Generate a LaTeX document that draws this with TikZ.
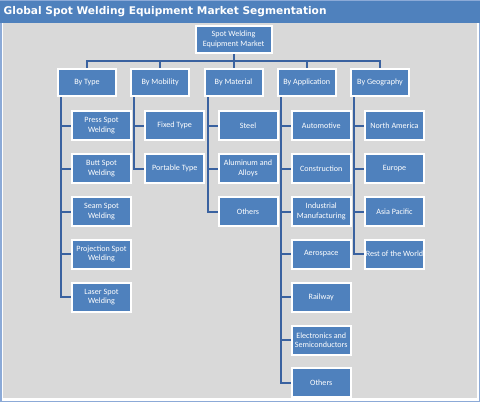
\documentclass[tikz,border=0pt]{standalone}
\usepackage{fontspec}
\usepackage{xcolor}
\usepackage{tikz}
\usetikzlibrary{positioning, calc}
\newfontfamily\boxfont{Carlito}
\newfontfamily\headfont{DejaVu Sans}
\definecolor{myblue}{RGB}{79,129,189}
\definecolor{mylink}{RGB}{58,98,160}
\definecolor{mygray}{RGB}{217,217,217}
\definecolor{myframe}{RGB}{140,170,215}
\tikzset{
  boxtext/.style={text=white, align=center, inner sep=1pt,
    font=\boxfont\fontsize{8.1}{9.4}\selectfont},
  link/.style={draw=mylink, line width=2pt}
}

\begin{document}
\begin{tikzpicture}[x=1pt, y=-1pt,
  rootbox/.style={rectangle, boxtext, draw=white, fill=myblue, line width=2pt, minimum width=76pt, minimum height=27pt},
  segbox/.style={rectangle, boxtext, draw=white, fill=myblue, line width=2pt, minimum width=58pt, minimum height=27pt},
  subbox/.style={rectangle, boxtext, draw=white, fill=myblue, line width=2pt, minimum width=59pt, minimum height=29pt}]

  \useasboundingbox (0,0) rectangle (480,402);
  \fill[white] (0,0) rectangle (480,402);
  \draw[myframe, line width=1.5pt] (0.75,0.75) rectangle (479.25,401.25);
  \fill[mygray] (3,23) rectangle (477,398);
  \fill[myblue] (0,1) rectangle (480,22.5);
  \node[anchor=west, inner sep=0pt, text=white, font=\headfont\bfseries\fontsize{10.6}{12}\selectfont] (title) at (3.5,12) {Global Spot Welding Equipment Market Segmentation};

  \node[rootbox] (mkt) at (233.5,39.5) {Spot Welding\\Equipment Market};

  \node[segbox] (type) at (87,82.5) {By Type};
  \node[segbox] (mob) at (160.25,82.5) {By Mobility};
  \node[segbox] (mat) at (233.5,82.5) {By Material};
  \node[segbox] (app) at (306.75,82.5) {By Application};
  \node[segbox] (geo) at (380,82.5) {By Geography};

  \node[subbox] (t1) at (101.5,125.5) {Press Spot\\Welding};
  \node[subbox] (t2) at (101.5,168.5) {Butt Spot\\Welding};
  \node[subbox] (t3) at (101.5,211.5) {Seam Spot\\Welding};
  \node[subbox] (t4) at (101.5,254) {Projection Spot\\Welding};
  \node[subbox] (t5) at (101.5,297) {Laser Spot\\Welding};

  \node[subbox] (m1) at (174.75,125.5) {Fixed Type};
  \node[subbox] (m2) at (174.75,168.5) {Portable Type};

  \node[subbox] (s1) at (248,125.5) {Steel};
  \node[subbox] (s2) at (248,168.5) {Aluminum and\\Alloys};
  \node[subbox] (s3) at (248,211.5) {Others};

  \node[subbox] (a1) at (321.25,125.5) {Automotive};
  \node[subbox] (a2) at (321.25,168.5) {Construction};
  \node[subbox] (a3) at (321.25,211.5) {Industrial\\Manufacturing};
  \node[subbox] (a4) at (321.25,254) {Aerospace};
  \node[subbox] (a5) at (321.25,297) {Railway};
  \node[subbox] (a6) at (321.25,340) {Electronics and\\Semiconductors};
  \node[subbox] (a7) at (321.25,382.5) {Others};

  \node[subbox] (g1) at (394.5,125.5) {North America};
  \node[subbox] (g2) at (394.5,168.5) {Europe};
  \node[subbox] (g3) at (394.5,211.5) {Asia Pacific};
  \node[subbox] (g4) at (394.5,254) {Rest of the World};

  \coordinate (bus) at (233.5,61);
  \draw[link] (mkt.south) -- (bus);
  \draw[link] (bus) -| (type.north);
  \draw[link] (bus) -| (mob.north);
  \draw[link] (bus) -- (mat.north);
  \draw[link] (bus) -| (app.north);
  \draw[link] (bus) -| (geo.north);

  \draw[link] ([xshift=4pt]type.south west) |- (t1.west);
  \draw[link] ([xshift=4pt]type.south west) |- (t2.west);
  \draw[link] ([xshift=4pt]type.south west) |- (t3.west);
  \draw[link] ([xshift=4pt]type.south west) |- (t4.west);
  \draw[link] ([xshift=4pt]type.south west) |- (t5.west);

  \draw[link] ([xshift=4pt]mob.south west) |- (m1.west);
  \draw[link] ([xshift=4pt]mob.south west) |- (m2.west);

  \draw[link] ([xshift=4pt]mat.south west) |- (s1.west);
  \draw[link] ([xshift=4pt]mat.south west) |- (s2.west);
  \draw[link] ([xshift=4pt]mat.south west) |- (s3.west);

  \draw[link] ([xshift=4pt]app.south west) |- (a1.west);
  \draw[link] ([xshift=4pt]app.south west) |- (a2.west);
  \draw[link] ([xshift=4pt]app.south west) |- (a3.west);
  \draw[link] ([xshift=4pt]app.south west) |- (a4.west);
  \draw[link] ([xshift=4pt]app.south west) |- (a5.west);
  \draw[link] ([xshift=4pt]app.south west) |- (a6.west);
  \draw[link] ([xshift=4pt]app.south west) |- (a7.west);

  \draw[link] ([xshift=4pt]geo.south west) |- (g1.west);
  \draw[link] ([xshift=4pt]geo.south west) |- (g2.west);
  \draw[link] ([xshift=4pt]geo.south west) |- (g3.west);
  \draw[link] ([xshift=4pt]geo.south west) |- (g4.west);

\end{tikzpicture}
\end{document}
